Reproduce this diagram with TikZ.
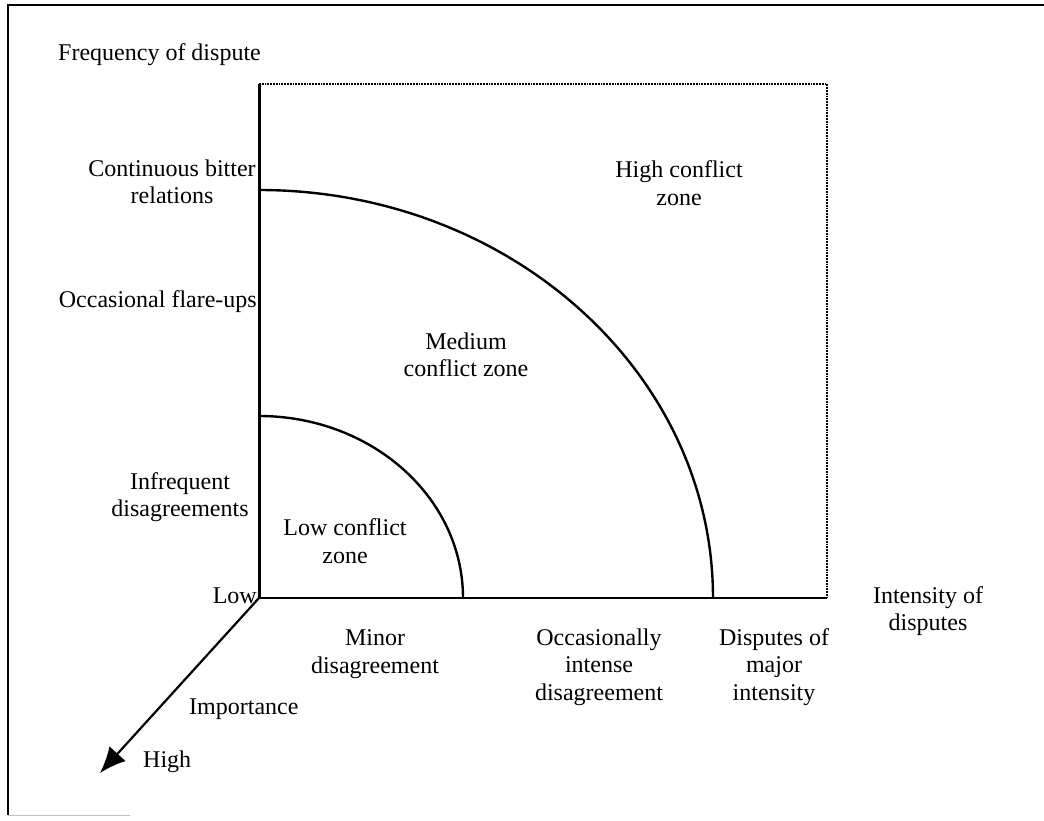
\documentclass[tikz,border=0pt]{standalone}
\usepackage{fontspec}
\setmainfont{Liberation Serif}
\usetikzlibrary{arrows.meta}
\begin{document}
\begin{tikzpicture}[x=1pt,y=1pt,
  lbl/.style={font=\fontsize{24}{27.5}\selectfont, align=center, inner sep=0pt},
  axisline/.style={line width=3pt},
  edge/.style={line width=1.8pt, densely dotted},
  zoneline/.style={line width=2.4pt}]
\useasboundingbox (0,0) rectangle (1044,820);
% outer frame (left and top visible)
\draw[line width=2pt] (8,5) -- (8,815) -- (1044,815);
\draw[line width=1pt, black!25] (8,5) -- (130,5);
% plot box
\coordinate (O) at (259,222);
\coordinate (TL) at (259,736);
\coordinate (TR) at (827,736);
\coordinate (BR) at (827,222);
\draw[axisline] (O) -- (TL);
\draw[line width=1.8pt] (O) -- (BR);
\draw[edge] (TL) -- (TR) -- (BR);
% zone boundaries
\coordinate (bigtop) at (259,630);
\coordinate (smalltop) at (259,404);
\draw[zoneline] (bigtop) arc[start angle=90, end angle=0, x radius=454, y radius=408];
\draw[zoneline] (smalltop) arc[start angle=90, end angle=0, x radius=204, y radius=182];
% importance axis
\coordinate (hightip) at (100,47);
\draw[line width=2.2pt, -{Latex[length=26pt,width=22pt]}] (O) -- (hightip);
% labels
\node[lbl, anchor=west] (freq) at (58,765) {Frequency of dispute};
\node[lbl] (cont) at (172,638) {Continuous bitter\\relations};
\node[lbl, anchor=east] (occ) at (257,518) {Occasional flare-ups};
\node[lbl] (infr) at (180,323) {Infrequent\\disagreements};
\node[lbl, anchor=east] (low) at (257,224) {Low};
\node[lbl] (minor) at (375,166) {Minor\\disagreement};
\node[lbl] (occint) at (599,153) {Occasionally\\intense\\disagreement};
\node[lbl] (major) at (774,153) {Disputes of\\major\\intensity};
\node[lbl] (intens) at (928,209) {Intensity of\\disputes};
\node[lbl, anchor=west] (imp) at (189,111) {Importance};
\node[lbl, anchor=west] (high) at (143,58) {High};
\node[lbl] (hz) at (679,637) {High conflict\\zone};
\node[lbl] (mz) at (466,465) {Medium\\conflict zone};
\node[lbl] (lz) at (345,279) {Low conflict\\zone};
\end{tikzpicture}
\end{document}
